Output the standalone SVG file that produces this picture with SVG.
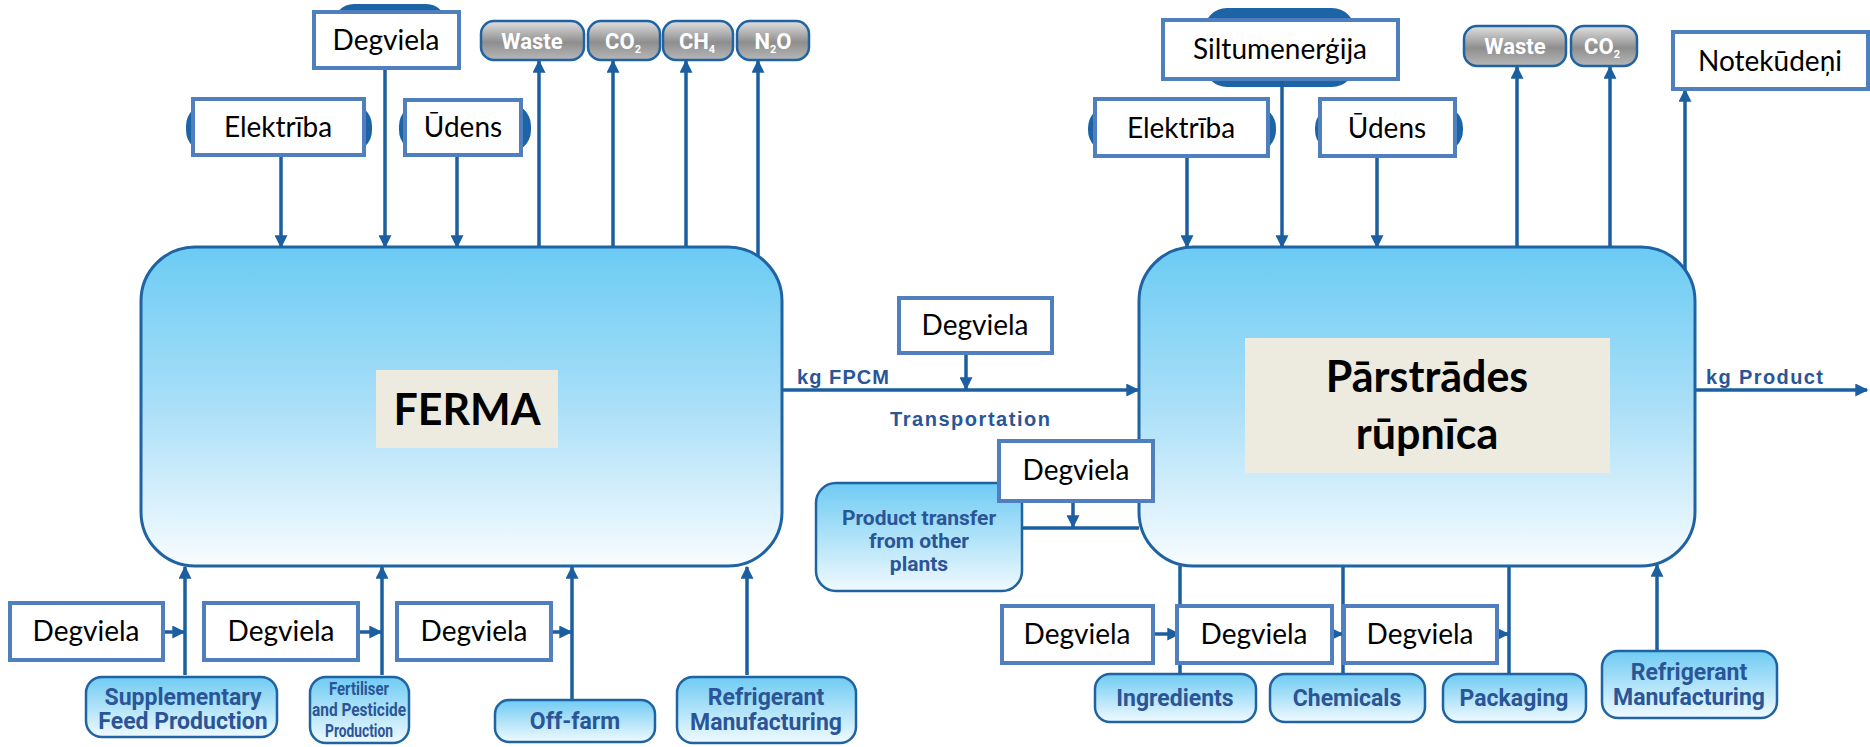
<svg xmlns="http://www.w3.org/2000/svg" width="1870" height="747" viewBox="0 0 1870 747">
<defs>
<linearGradient id="mainGrad" x1="0" y1="0" x2="0" y2="1">
<stop offset="0" stop-color="#6bcbf4"/><stop offset="0.5" stop-color="#aadff7"/><stop offset="1" stop-color="#f8fcff"/>
</linearGradient>
<linearGradient id="srcGrad" x1="0" y1="0" x2="0" y2="1">
<stop offset="0" stop-color="#6fcbf3"/><stop offset="1" stop-color="#f0faff"/>
</linearGradient>
<linearGradient id="grayGrad" x1="0" y1="0" x2="0" y2="1">
<stop offset="0" stop-color="#e0e0e0"/><stop offset="0.55" stop-color="#8e8e8e"/><stop offset="1" stop-color="#b8b8b8"/>
</linearGradient>
<marker id="ah" viewBox="0 0 10 10" refX="9" refY="5" markerWidth="13" markerHeight="13" markerUnits="userSpaceOnUse" orient="auto">
<path d="M0,0 L10,5 L0,10 z" fill="#1b5fa0"/>
</marker>
<style>
.main{fill:url(#mainGrad);stroke:#1f63a3;stroke-width:3}
.src{fill:url(#srcGrad);stroke:#1f63a3;stroke-width:2.5}
.pill{fill:url(#grayGrad);stroke:#1f63a3;stroke-width:2.5}
.hid{fill:#1c64a6;stroke:#1c64a6;stroke-width:2}
.lbl{fill:#ffffff;stroke:#4f7fbe;stroke-width:4}
.lbg{fill:#edebe0}
.ln{stroke:#1b5fa0;stroke-width:3.5;fill:none}
.ar{stroke:#1b5fa0;stroke-width:3.5;fill:none;marker-end:url(#ah)}
.t{font-family:Lato,"Liberation Sans",sans-serif;font-size:28px;fill:#000;text-anchor:middle}
.big{font-family:Lato,"Liberation Sans",sans-serif;font-size:43px;font-weight:bold;fill:#000;text-anchor:middle}
.st{font-family:Roboto,"Liberation Sans",sans-serif;font-size:23px;font-weight:bold;fill:#2a5597;text-anchor:middle}
.sf{font-family:Roboto,"Liberation Sans",sans-serif;font-size:21px;font-weight:bold;fill:#2a5597;text-anchor:middle}
.sx{font-family:Roboto,"Liberation Sans",sans-serif;font-size:18px;font-weight:bold;fill:#2a5597;text-anchor:middle}
.pt{font-family:Roboto,"Liberation Sans",sans-serif;font-size:22px;font-weight:bold;fill:#ffffff;text-anchor:middle}
.ft{font-family:"Liberation Sans",sans-serif;font-size:20px;font-weight:bold;fill:#2a5597}
</style>
</defs>

<g id="hidden-shapes">
<rect class="hid" x="187" y="104" width="184" height="48" rx="22"/>
<rect class="hid" x="334" y="5" width="112" height="60" rx="20"/>
<rect class="hid" x="400" y="104" width="130" height="48" rx="22"/>
<rect class="hid" x="1205" y="9" width="149" height="77" rx="22"/>
<rect class="hid" x="1089" y="106" width="186" height="46" rx="22"/>
<rect class="hid" x="1316" y="106" width="146" height="46" rx="22"/>
</g>

<g id="connectors">
<line class="ar" x1="281" y1="155" x2="281" y2="247"/>
<line class="ar" x1="385" y1="68" x2="385" y2="247"/>
<line class="ar" x1="457" y1="155" x2="457" y2="247"/>
<line class="ar" x1="539" y1="247" x2="539" y2="61"/>
<line class="ar" x1="613" y1="247" x2="613" y2="61"/>
<line class="ar" x1="686" y1="247" x2="686" y2="61"/>
<line class="ar" x1="758" y1="256" x2="758" y2="61"/>
<line class="ar" x1="185" y1="675" x2="185" y2="567"/>
<line class="ar" x1="382" y1="675" x2="382" y2="567"/>
<line class="ar" x1="572" y1="700" x2="572" y2="567"/>
<line class="ar" x1="747" y1="675" x2="747" y2="567"/>
<line class="ar" x1="163" y1="632" x2="184" y2="632"/>
<line class="ar" x1="358" y1="632" x2="381" y2="632"/>
<line class="ar" x1="551" y1="632" x2="571" y2="632"/>
<line class="ar" x1="782" y1="390" x2="1138" y2="390"/>
<line class="ar" x1="966" y1="353" x2="966" y2="389"/>
<line class="ln" x1="1022" y1="528" x2="1139" y2="528"/>
<line class="ar" x1="1073" y1="501" x2="1073" y2="527"/>
<line class="ar" x1="1187" y1="156" x2="1187" y2="247"/>
<line class="ar" x1="1282" y1="79" x2="1282" y2="247"/>
<line class="ar" x1="1377" y1="156" x2="1377" y2="247"/>
<line class="ar" x1="1517" y1="247" x2="1517" y2="67"/>
<line class="ar" x1="1610" y1="247" x2="1610" y2="67"/>
<line class="ar" x1="1685" y1="270" x2="1685" y2="90"/>
<line class="ar" x1="1695" y1="390" x2="1867" y2="390"/>
<line class="ln" x1="1180" y1="566" x2="1180" y2="674"/>
<line class="ln" x1="1343" y1="566" x2="1343" y2="674"/>
<line class="ln" x1="1509" y1="566" x2="1509" y2="674"/>
<line class="ar" x1="1153" y1="634" x2="1179" y2="634"/>
<line class="ar" x1="1332" y1="634" x2="1342" y2="634"/>
<line class="ar" x1="1497" y1="634" x2="1508" y2="634"/>
<line class="ar" x1="1657" y1="651" x2="1657" y2="565"/>
</g>

<g id="ferma">
<rect class="main" x="141" y="247" width="641" height="319" rx="54"/>
<rect class="lbg" x="376" y="370" width="182" height="78"/>
<text class="big" x="467" y="425">FERMA</text>
</g>

<g id="parstrade">
<rect class="main" x="1139" y="247" width="556" height="319" rx="54"/>
<rect class="lbg" x="1245" y="338" width="365" height="135"/>
<text class="big" x="1427" y="392">Pārstrādes</text>
<text class="big" x="1427" y="449">rūpnīca</text>
</g>

<g id="elektriba-1"><rect class="lbl" x="193" y="99" width="171" height="56"/><text class="t" x="278" y="137">Elektrība</text></g>
<g id="degviela-top"><rect class="lbl" x="314" y="12" width="145" height="56"/><text class="t" x="386" y="50">Degviela</text></g>
<g id="udens-1"><rect class="lbl" x="405" y="100" width="116" height="55"/><text class="t" x="463" y="137">Ūdens</text></g>

<g id="waste-1"><rect class="pill" x="481" y="21" width="103" height="39" rx="13"/><text class="pt" x="532" y="49">Waste</text></g>
<g id="co2-1"><rect class="pill" x="588" y="21" width="72" height="39" rx="13"/><text class="pt" x="623" y="49">CO<tspan font-size="11" dy="4">2</tspan></text></g>
<g id="ch4-1"><rect class="pill" x="663" y="21" width="70" height="39" rx="13"/><text class="pt" x="697" y="49">CH<tspan font-size="11" dy="4">4</tspan></text></g>
<g id="n2o-1"><rect class="pill" x="737" y="21" width="72" height="39" rx="13"/><text class="pt" x="773" y="49">N<tspan font-size="11" dy="4">2</tspan><tspan dy="-4">O</tspan></text></g>

<g id="siltum"><rect class="lbl" x="1163" y="20" width="235" height="59"/><text class="t" x="1280" y="59">Siltumenerģija</text></g>
<g id="elektriba-2"><rect class="lbl" x="1095" y="99" width="173" height="57"/><text class="t" x="1181" y="138">Elektrība</text></g>
<g id="udens-2"><rect class="lbl" x="1320" y="99" width="135" height="57"/><text class="t" x="1387" y="138">Ūdens</text></g>
<g id="waste-2"><rect class="pill" x="1464" y="26" width="102" height="40" rx="13"/><text class="pt" x="1515" y="54">Waste</text></g>
<g id="co2-2"><rect class="pill" x="1571" y="26" width="66" height="40" rx="13"/><text class="pt" x="1602" y="54">CO<tspan font-size="11" dy="4">2</tspan></text></g>
<g id="notekudeni"><rect class="lbl" x="1673" y="32" width="195" height="57"/><text class="t" x="1770" y="71">Notekūdeņi</text></g>

<g id="transport-labels">
<text class="ft" x="797" y="384" textLength="92">kg FPCM</text>
<text class="ft" x="890" y="426" textLength="160">Transportation</text>
<text class="ft" x="1706" y="384" textLength="117">kg Product</text>
</g>
<g id="degviela-mid"><rect class="lbl" x="899" y="298" width="153" height="55"/><text class="t" x="975" y="335">Degviela</text></g>
<g id="product-transfer">
<rect class="src" x="816" y="483" width="206" height="108" rx="20"/>
<text class="sf" x="919" y="525">Product transfer</text>
<text class="sf" x="919" y="548">from other</text>
<text class="sf" x="919" y="571">plants</text>
</g>
<g id="degviela-mid2"><rect class="lbl" x="999" y="441" width="154" height="60"/><text class="t" x="1076" y="480">Degviela</text></g>

<g id="degviela-b1"><rect class="lbl" x="10" y="603" width="153" height="57"/><text class="t" x="86" y="641">Degviela</text></g>
<g id="degviela-b2"><rect class="lbl" x="204" y="603" width="154" height="57"/><text class="t" x="281" y="641">Degviela</text></g>
<g id="degviela-b3"><rect class="lbl" x="397" y="603" width="154" height="57"/><text class="t" x="474" y="641">Degviela</text></g>

<g id="supplementary"><rect class="src" x="86" y="677" width="191" height="60" rx="16"/><text class="st" x="183" y="705">Supplementary</text><text class="st" x="183" y="729">Feed Production</text></g>
<g id="fertiliser"><rect class="src" x="310" y="677" width="99" height="66" rx="16"/>
<text class="sx" x="359" y="695" textLength="60" lengthAdjust="spacingAndGlyphs">Fertiliser</text>
<text class="sx" x="359" y="716" textLength="94" lengthAdjust="spacingAndGlyphs">and Pesticide</text>
<text class="sx" x="359" y="737" textLength="68" lengthAdjust="spacingAndGlyphs">Production</text></g>
<g id="offfarm"><rect class="src" x="495" y="700" width="160" height="42" rx="14"/><text class="st" x="575" y="729">Off-farm</text></g>
<g id="refrig-1"><rect class="src" x="677" y="677" width="179" height="66" rx="16"/><text class="st" x="766" y="705">Refrigerant</text><text class="st" x="766" y="730">Manufacturing</text></g>

<g id="degviela-b4"><rect class="lbl" x="1002" y="606" width="151" height="57"/><text class="t" x="1077" y="644">Degviela</text></g>
<g id="degviela-b5"><rect class="lbl" x="1177" y="606" width="155" height="57"/><text class="t" x="1254" y="644">Degviela</text></g>
<g id="degviela-b6"><rect class="lbl" x="1344" y="606" width="153" height="57"/><text class="t" x="1420" y="644">Degviela</text></g>

<g id="ingredients"><rect class="src" x="1095" y="674" width="161" height="48" rx="15"/><text class="st" x="1175" y="706">Ingredients</text></g>
<g id="chemicals"><rect class="src" x="1270" y="674" width="155" height="48" rx="15"/><text class="st" x="1347" y="706">Chemicals</text></g>
<g id="packaging"><rect class="src" x="1443" y="674" width="143" height="48" rx="15"/><text class="st" x="1514" y="706">Packaging</text></g>
<g id="refrig-2"><rect class="src" x="1602" y="651" width="175" height="67" rx="16"/><text class="st" x="1689" y="680">Refrigerant</text><text class="st" x="1689" y="705">Manufacturing</text></g>
</svg>
